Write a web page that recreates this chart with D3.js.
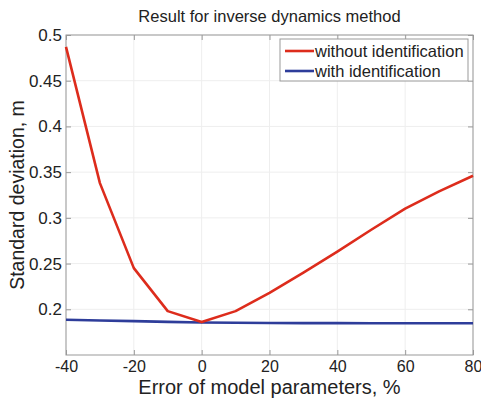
<!DOCTYPE html>
<html>
<head>
<meta charset="utf-8">
<script src="https://cdn.jsdelivr.net/npm/d3@7"></script>
<style>
  body { margin: 0; background: #fff; }
  text { font-family: "Liberation Sans", Arial, sans-serif; fill: #222; }
</style>
</head>
<body>
<svg width="481" height="400"></svg>
<script>
// data
const errors = [-40, -30, -20, -10, 0, 10, 20, 30, 40, 50, 60, 70, 80];
const withoutId = [0.487, 0.338, 0.245, 0.198, 0.186, 0.198, 0.218, 0.240, 0.263, 0.287, 0.310, 0.329, 0.346];
const withId = [0.1885, 0.1878, 0.1870, 0.1862, 0.1855, 0.1852, 0.1850, 0.1849, 0.1849, 0.1848, 0.1848, 0.1848, 0.1848];
const xTicks = [-40, -20, 0, 20, 40, 60, 80];
const yTicks = [0.2, 0.25, 0.3, 0.35, 0.4, 0.45, 0.5];
const seriesNames = ['without identification', 'with identification'];
const seriesColors = ['#dd2c1c', '#2e3d9a'];

const svg = d3.select('svg');
const margin = { t: 35, r: 8, b: 45, l: 66 };
const width = 481 - margin.l - margin.r;
const height = 400 - margin.t - margin.b;

const x = d3.scaleLinear().domain([-40, 80]).range([0, width]);
const y = d3.scaleLinear().domain([0.15, 0.5]).range([height, 0]);

const g = svg.append('g').attr('transform', `translate(${margin.l},${margin.t})`);

// faint grid
g.selectAll('.vgrid').data(xTicks).enter().append('line')
    .attr('x1', d => x(d)).attr('x2', d => x(d))
    .attr('y1', 0).attr('y2', height)
    .attr('stroke', '#eeeeee').attr('stroke-width', 1);
g.selectAll('.hgrid').data(yTicks).enter().append('line')
    .attr('y1', d => y(d)).attr('y2', d => y(d))
    .attr('x1', 0).attr('x2', width)
    .attr('stroke', '#eeeeee').attr('stroke-width', 1);

// axes with inward ticks
const axisStyle = (sel, size) => {
    sel.select('.domain').remove();
    sel.selectAll('.tick line').attr('stroke', '#999');
    sel.selectAll('.tick text').attr('fill', '#222').style('font-size', size + 'px')
        .style('font-family', '"Liberation Sans", Arial, sans-serif');
};
g.append('g').attr('transform', `translate(0,${height})`)
    .call(d3.axisBottom(x).tickValues(xTicks).tickSize(-5).tickPadding(6).tickFormat(d => String(d)))
    .call(axisStyle, 16);
g.append('g')
    .call(d3.axisLeft(y).tickValues(yTicks).tickSize(-5).tickPadding(4).tickFormat(d => String(+d.toFixed(2))))
    .call(axisStyle, 17);
g.append('g')
    .call(d3.axisTop(x).tickValues(xTicks).tickSize(-5).tickFormat(''))
    .call(axisStyle, 16);
g.append('g').attr('transform', `translate(${width},0)`)
    .call(d3.axisRight(y).tickValues(yTicks).tickSize(-5).tickFormat(''))
    .call(axisStyle, 16);

g.append('rect').attr('width', width).attr('height', height)
    .attr('fill', 'none').attr('stroke', '#999').attr('stroke-width', 1);

// lines
const line = d3.line().x((d, i) => x(errors[i])).y(d => y(d));
[withId, withoutId].forEach((vals, k) => {
    g.append('path').datum(vals)
        .attr('d', line)
        .attr('fill', 'none')
        .attr('stroke', seriesColors[1 - k])
        .attr('stroke-width', 2.6)
        .attr('stroke-linejoin', 'round');
});

// legend
const lg = g.append('g').attr('transform', `translate(${280 - margin.l},${39 - margin.t})`);
lg.append('rect').attr('width', 188).attr('height', 42)
    .attr('fill', '#fff').attr('stroke', '#999').attr('stroke-width', 1);
seriesNames.forEach((name, i) => {
    const yy = 12 + i * 20;
    lg.append('line').attr('x1', 5).attr('x2', 34).attr('y1', yy).attr('y2', yy)
        .attr('stroke', seriesColors[i]).attr('stroke-width', 2.6);
    lg.append('text').attr('x', 35).attr('y', yy).attr('dy', '0.35em')
        .style('font-size', '16.5px').text(name);
});

// titles
svg.append('text').attr('x', margin.l + width / 2).attr('y', 22)
    .attr('text-anchor', 'middle').style('font-size', '16.5px')
    .text('Result for inverse dynamics method');
svg.append('text').attr('x', margin.l + width / 2).attr('y', 394)
    .attr('text-anchor', 'middle').style('font-size', '20px')
    .text('Error of model parameters, %');
svg.append('text').attr('transform', `translate(24,195) rotate(-90)`)
    .attr('text-anchor', 'middle').style('font-size', '19.5px')
    .text('Standard deviation, m');
</script>
</body>
</html>
